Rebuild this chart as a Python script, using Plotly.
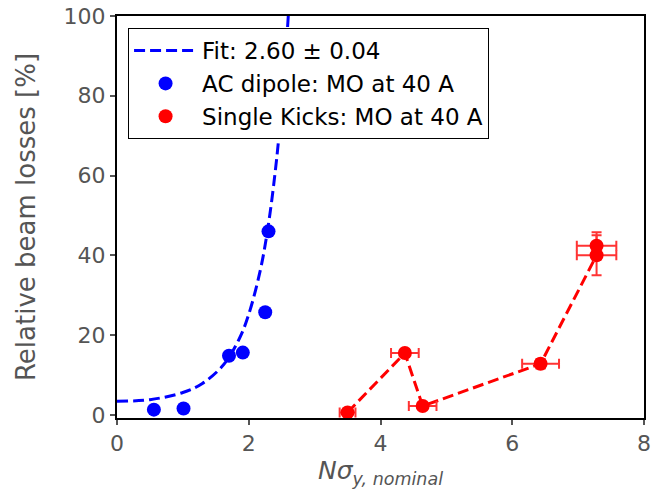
import plotly.graph_objects as go

# AC dipole data
ac_x = [0.56, 1.01, 1.70, 1.91, 2.25, 2.30]
ac_y = [1.3, 1.6, 14.8, 15.6, 25.7, 46.0]

# Single kicks data
sk_x = [3.50, 4.37, 4.64, 6.43, 7.28, 7.28]
sk_y = [0.6, 15.5, 2.2, 12.8, 40.0, 42.4]
sk_xerr = [0.12, 0.21, 0.21, 0.28, 0.30, 0.30]
sk_yerr = [0.5, 0.8, 0.6, 1.2, 5.0, 3.4]

# Fit curve
fit_x = [0.0, 0.5, 1.0, 1.29, 1.62, 1.86, 2.0, 2.18, 2.3, 2.4, 2.47, 2.55, 2.6, 2.65]
fit_y = [3.4, 3.8, 5.6, 7.8, 12.6, 19.2, 25.2, 36.6, 47.9, 60.7, 71.9, 87.8, 100.0, 114.0]

fit_label = "Fit: 2.60 ± 0.04"

FONT = "DejaVu Sans"
GRAY = "#555555"

fig = go.Figure()

fig.add_trace(go.Scatter(
    x=fit_x, y=fit_y, mode="lines", name=fit_label, line_shape="spline",
    line=dict(color="#0000ff", width=3, dash="11px,5px"),
    legendgroup="a",
))
fig.add_trace(go.Scatter(
    x=ac_x, y=ac_y, mode="markers", name="AC dipole: MO at 40 A",
    marker=dict(color="#0000ff", size=14, line=dict(width=0)),
    legendgroup="b",
))
fig.add_trace(go.Scatter(
    x=sk_x, y=sk_y, mode="lines", showlegend=False,
    line=dict(color="#ff0000", width=3, dash="11px,5px"),
))
fig.add_trace(go.Scatter(
    x=sk_x, y=sk_y, mode="markers", name="Single Kicks: MO at 40 A",
    marker=dict(color="#ff0000", size=14, line=dict(width=0)),
    error_x=dict(type="data", array=sk_xerr, color="#ff3333", thickness=2, width=5),
    error_y=dict(type="data", array=sk_yerr, color="#ff3333", thickness=2, width=5),
    legendgroup="c",
))

axis_common = dict(
    showline=True, linecolor="black", linewidth=2, mirror=True,
    ticks="outside", ticklen=5, tickwidth=1.5, tickcolor=GRAY,
    showgrid=False, zeroline=False, automargin=False,
    tickfont=dict(family=FONT, size=22, color=GRAY),
)

fig.update_layout(
    width=662, height=494,
    margin=dict(l=117, r=18, t=16, b=76),
    paper_bgcolor="white", plot_bgcolor="white",
    font=dict(family=FONT, size=22, color="black"),
    xaxis=dict(range=[0, 8], tickvals=[0, 2, 4, 6, 8],
               title=dict(text="<i>Nσ</i><sub><i>y, nominal</i></sub>",
                          font=dict(family=FONT, size=25, color=GRAY), standoff=6),
               **axis_common),
    yaxis=dict(range=[-0.8, 100], tickvals=[0, 20, 40, 60, 80, 100],
               title=dict(text="Relative beam losses [%]",
                          font=dict(family=FONT, size=26, color=GRAY), standoff=20),
               **axis_common),
    legend=dict(x=0.021, y=0.97, xanchor="left", yanchor="top",
                bgcolor="white", bordercolor="black", borderwidth=1,
                font=dict(family=FONT, size=23, color="black"),
                itemwidth=63, tracegroupgap=0, traceorder="grouped"),
    showlegend=True,
)

fig.write_html("out.html")
